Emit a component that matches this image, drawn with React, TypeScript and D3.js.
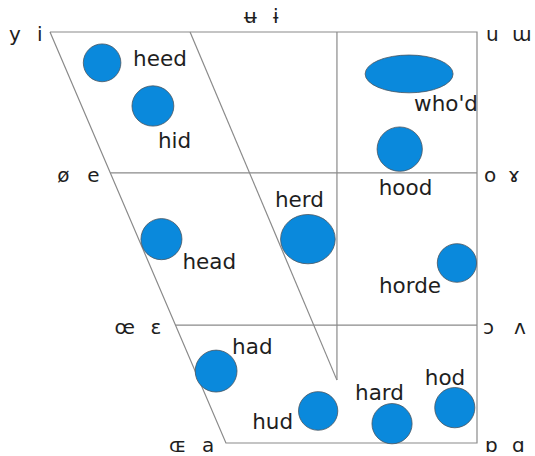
import React from "react"
import * as d3 from "d3"

// vowel chart, x: front(0) -> back(100), y: close(0) -> open(100)
const words = ["heed", "hid", "who'd", "hood", "herd", "head", "horde", "had", "hud", "hard", "hod"]
const frontness = [12.2, 24.1, 84.1, 81.9, 60.4, 26.1, 95.3, 38.9, 62.8, 80.1, 94.8]
const openness = [7.5, 18.0, 10.2, 28.5, 50.4, 50.4, 56.2, 82.5, 92.2, 95.3, 91.4]
const spreadX = [4.4, 4.9, 10.3, 5.3, 6.4, 4.8, 4.6, 4.9, 4.6, 4.7, 4.7]
const spreadY = [4.6, 4.9, 4.6, 5.4, 6.0, 5.0, 4.7, 5.1, 4.7, 4.9, 4.9]

const heights = [0, 34.3, 71.3, 100]
const leftSymbols = [["y", "i"], ["ø", "e"], ["œ", "ɛ"], ["ɶ", "a"]]
const rightSymbols = [["u", "ɯ"], ["o", "ɤ"], ["ɔ", "ʌ"], ["ɒ", "ɑ"]]
const centralSymbols = ["ʉ", "ɨ"]

// label offsets from the bubble centre (px)
const labelOffsets: [number, number][] = [
  [31, 3], [5, 42], [5, 37], [-21, 46], [-33, -32], [21, 30],
  [-78, 30], [16, -17], [-66, 18], [-37, -24], [-30, -23],
]
const leftOffsets = [[-41, -13], [-53, -23], [-61, -25], [-57, -24]]
const rightOffsets = [[9, 35], [7, 31], [6, 37], [8, 35]]

const W = 535
const H = 456

export default function App() {
  const x = d3.scaleLinear().domain([0, 100]).range([50, 477])
  const y = d3.scaleLinear().domain([0, 100]).range([32, 443])

  const leftEdge = d3.scaleLinear().domain([0, 100]).range([0, 41.2])
  const midLine = d3.scaleLinear().domain([0, 84.7]).range([32.8, 67.2])
  const midEnd = 84.7

  const line = d3.line<[number, number]>().x((d) => x(d[0])).y((d) => y(d[1]))
  const stroke = "#8a8a8a"

  const font = "'DejaVu Sans', Verdana, sans-serif"

  return (
    <svg width={W} height={H} style={{ position: "absolute", left: 0, top: 0, background: "#fff" }}>
      <g fill="none" stroke={stroke} strokeWidth={1.2}>
        {/* outline */}
        <path d={line([[leftEdge(0), 0], [100, 0], [100, 100], [leftEdge(100), 100], [leftEdge(0), 0]])!} />
        {heights.slice(1, 3).map((h) => (
          <path key={h} d={line([[leftEdge(h), h], [100, h]])!} />
        ))}
        <path d={line([[midLine(0), 0], [midLine(midEnd), midEnd]])!} />
        <path d={line([[midLine(midEnd), 0], [midLine(midEnd), midEnd]])!} />
      </g>

      {words.map((w, i) => (
        <ellipse
          key={w}
          cx={x(frontness[i])}
          cy={y(openness[i])}
          rx={x(spreadX[i]) - x(0)}
          ry={y(spreadY[i]) - y(0)}
          fill="#0a89dc"
          stroke="#4a5560"
          strokeWidth={0.8}
        />
      ))}

      <g fontFamily={font} fontSize={21.5} fill="#1e1e1e">
        {words.map((w, i) => (
          <text key={w} x={x(frontness[i]) + labelOffsets[i][0]} y={y(openness[i]) + labelOffsets[i][1]}>
            {w}
          </text>
        ))}
      </g>

      <g fontFamily={font} fontSize={20} fill="#1e1e1e">
        {heights.map((h, r) => (
          <g key={"l" + h}>
            <text x={x(leftEdge(h)) + leftOffsets[r][0]} y={y(h) + 9}>{leftSymbols[r][0]}</text>
            <text x={x(leftEdge(h)) + leftOffsets[r][1]} y={y(h) + 9}>{leftSymbols[r][1]}</text>
          </g>
        ))}
        {heights.map((h, r) => (
          <g key={"r" + h}>
            <text x={x(100) + rightOffsets[r][0]} y={y(h) + 9}>{rightSymbols[r][0]}</text>
            <text x={x(100) + rightOffsets[r][1]} y={y(h) + 9}>{rightSymbols[r][1]}</text>
          </g>
        ))}
        <text x={244} y={23}>{centralSymbols[0]}</text>
        <text x={273} y={23}>{centralSymbols[1]}</text>
      </g>
    </svg>
  )
}
